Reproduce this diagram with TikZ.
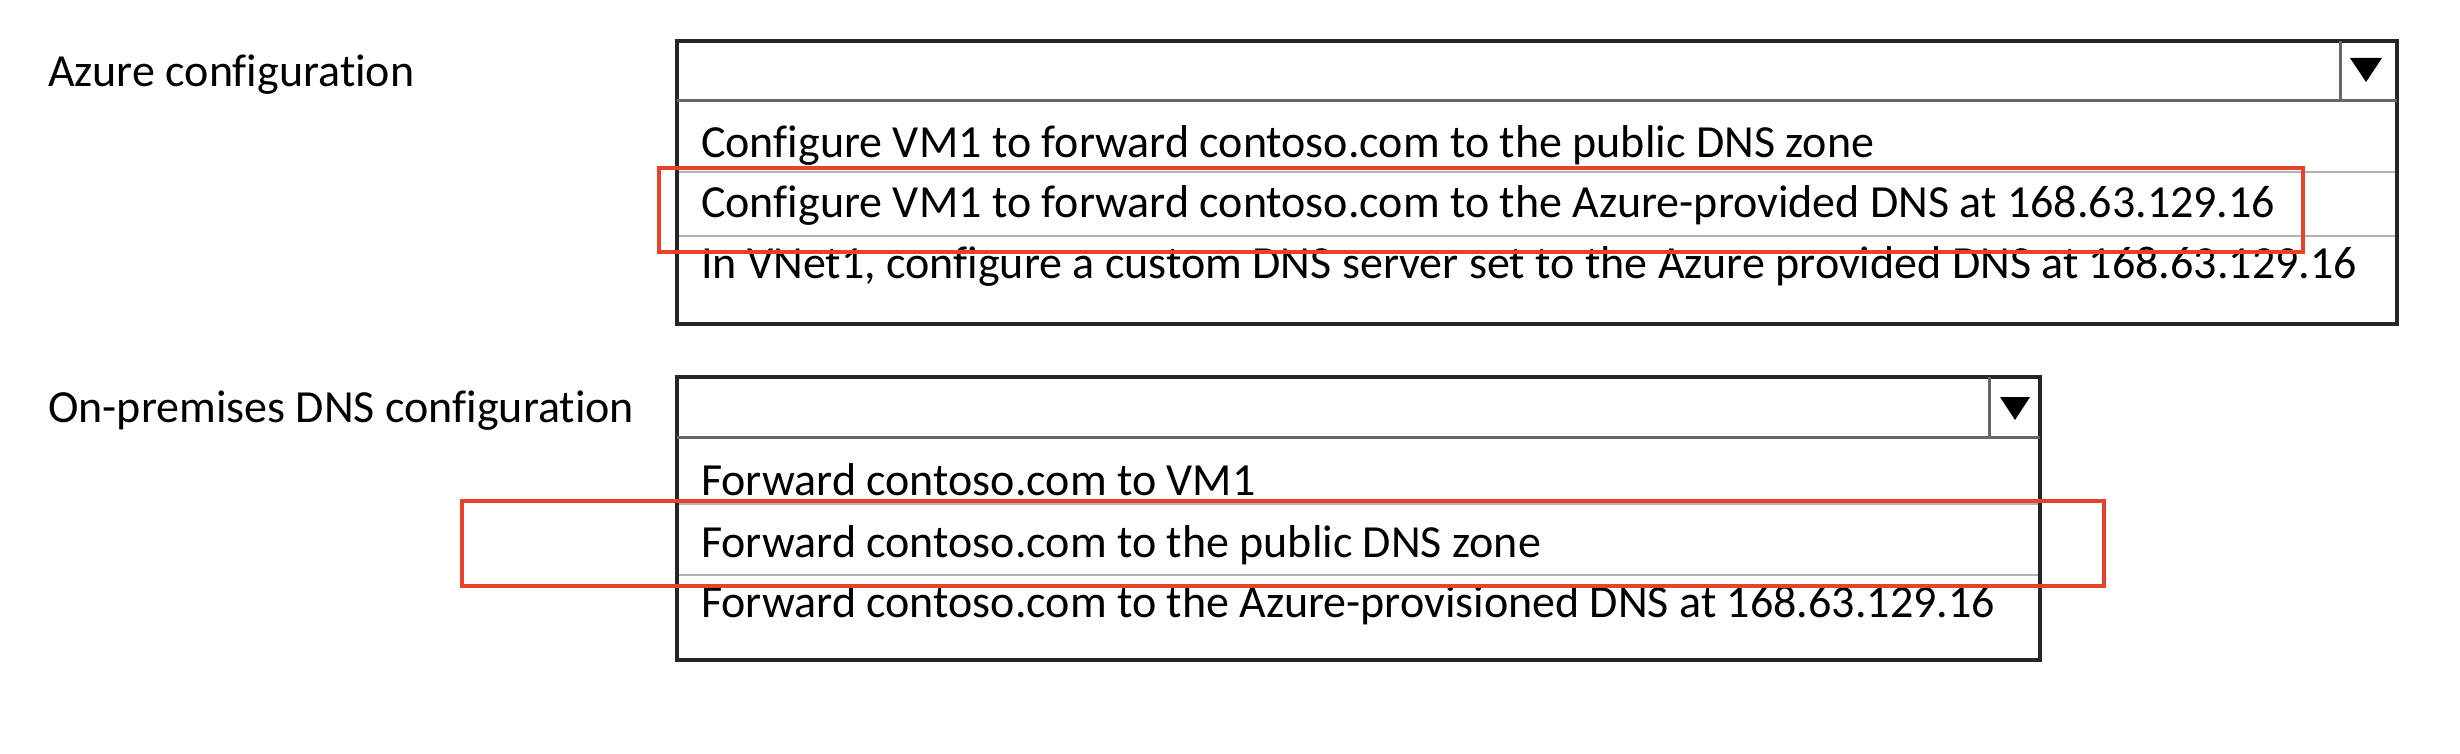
\documentclass[tikz,border=0pt]{standalone}
\usepackage{fontspec}
\setmainfont{Carlito}[Ligatures=NoCommon]
\usepackage{tikz}
\definecolor{pickred}{RGB}{232,67,42}

\begin{document}
\begin{tikzpicture}[x=1pt,y=-1pt,
  opt/.style={anchor=base west, inner sep=0pt, font=\fontsize{46}{52}\selectfont},
  frame/.style={draw=black!85, line width=4pt},
  hdrline/.style={draw=black!60, line width=3pt},
  sepline/.style={draw=black!30, line width=2pt},
  pick/.style={draw=pickred, line width=4pt}]
\useasboundingbox (0,0) rectangle (2460,754);

\node[opt] (azlbl) at (48,87) {Azure configuration};
\draw[frame] (677,41) rectangle (2397,324);
\draw[hdrline] (677,101) -- (2397,101);
\draw[hdrline] (2340,41) -- (2340,101);
\fill (2350,58) -- (2382,58) -- (2366,82) -- cycle;
\draw[sepline] (679,172) -- (2395,172);
\draw[sepline] (679,236) -- (2395,236);
\node[opt] (az1) at (701,158) {Configure VM1 to forward contoso.com to the public DNS zone};
\node[opt] (az2) at (701,218) {Configure VM1 to forward contoso.com to the Azure-provided DNS at 168.63.129.16};
\node[opt] (az3) at (701,278) {In VNet1, configure a custom DNS server set to the Azure provided DNS at 168.63.129.16};
\draw[pick] (659,168) rectangle (2303,252);

\node[opt] (oplbl) at (48,422) {On-premises DNS configuration};
\draw[frame] (677,377) rectangle (2040,660);
\draw[hdrline] (677,437) -- (2040,437);
\draw[hdrline] (1989,377) -- (1989,437);
\fill (2000,397) -- (2030,397) -- (2015,420) -- cycle;
\draw[sepline] (679,504) -- (2038,504);
\draw[sepline] (679,575) -- (2038,575);
\node[opt] (op1) at (701,495) {Forward contoso.com to VM1};
\node[opt] (op2) at (701,557) {Forward contoso.com to the public DNS zone};
\node[opt] (op3) at (701,617) {Forward contoso.com to the Azure-provisioned DNS at 168.63.129.16};
\draw[pick] (462,501) rectangle (2104,586);
\end{tikzpicture}
\end{document}
